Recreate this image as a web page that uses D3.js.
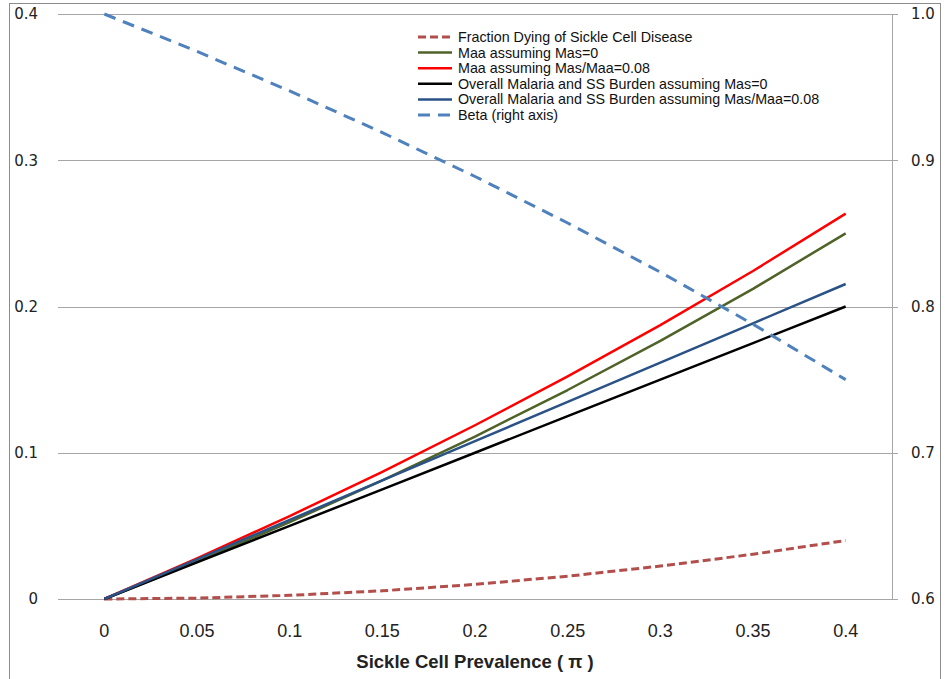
<!DOCTYPE html>
<html>
<head>
<meta charset="utf-8">
<script src="https://cdn.jsdelivr.net/npm/d3@7"></script>
<style>
  body { margin: 0; background: #fff; }
  svg { display: block; }
</style>
</head>
<body>
<div id="chart"></div>
<script>
// Sickle cell prevalence (x categories)
const prevalence = [0, 0.05, 0.1, 0.15, 0.2, 0.25, 0.3, 0.35, 0.4];
const xTickLabels = ["0", "0.05", "0.1", "0.15", "0.2", "0.25", "0.3", "0.35", "0.4"];

// values
const fractionDyingSS = [0, 0.0006, 0.0025, 0.0056, 0.01, 0.0156, 0.0225, 0.0306, 0.04];
const maaMas0 = [0, 0.0256, 0.0526, 0.0811, 0.1111, 0.1429, 0.1765, 0.2121, 0.25];
const maaMas008 = [0, 0.0278, 0.0567, 0.087, 0.1188, 0.1522, 0.1873, 0.2243, 0.2635];
const burdenMas0 = [0, 0.025, 0.05, 0.075, 0.1, 0.125, 0.15, 0.175, 0.2];
const burdenMas008 = [0, 0.0271, 0.0541, 0.0811, 0.1079, 0.1348, 0.1616, 0.1885, 0.2154];
const beta = [1.0, 0.9744, 0.9474, 0.9189, 0.8889, 0.8571, 0.8235, 0.7879, 0.75];

const leftTicks = [0, 0.1, 0.2, 0.3, 0.4];
const leftTickLabels = ["0", "0.1", "0.2", "0.3", "0.4"];
const rightTicks = [0.6, 0.7, 0.8, 0.9, 1.0];
const rightTickLabels = ["0.6", "0.7", "0.8", "0.9", "1.0"];

const seriesNames = [
  "Fraction Dying of Sickle Cell Disease",
  "Maa assuming Mas=0",
  "Maa assuming Mas/Maa=0.08",
  "Overall Malaria and SS Burden assuming Mas=0",
  "Overall Malaria and SS Burden assuming Mas/Maa=0.08",
  "Beta (right axis)"
];

const series = [
  { name: seriesNames[0], values: fractionDyingSS, color: "#B24E4B", dash: "8,4", axis: "left" },
  { name: seriesNames[1], values: maaMas0, color: "#4F6228", dash: null, axis: "left" },
  { name: seriesNames[2], values: maaMas008, color: "#FF0000", dash: null, axis: "left" },
  { name: seriesNames[3], values: burdenMas0, color: "#000000", dash: null, axis: "left" },
  { name: seriesNames[4], values: burdenMas008, color: "#2A5286", dash: null, axis: "left" },
  { name: seriesNames[5], values: beta, color: "#4F81BD", dash: "12,8", axis: "right" }
];

const W = 945, H = 679;
const plot = { left: 58, right: 892, top: 14, bottom: 599 };

const svg = d3.select("#chart").append("svg")
  .attr("width", W)
  .attr("height", H);

// outer chart border
svg.append("rect")
  .attr("x", 9.5).attr("y", 3.5)
  .attr("width", 931).attr("height", 690)
  .attr("fill", "none")
  .attr("stroke", "#8c8c8c")
  .attr("stroke-width", 1);

// category axis: points centred in 9 bands
const x = d3.scalePoint()
  .domain(prevalence)
  .range([plot.left, plot.right])
  .padding(0.5);

const yL = d3.scaleLinear().domain([0, 0.4]).range([plot.bottom, plot.top]);
const yR = d3.scaleLinear().domain([0.6, 1.0]).range([plot.bottom, plot.top]);

// gridlines (left axis)
svg.append("g")
  .selectAll("line")
  .data(leftTicks)
  .join("line")
  .attr("x1", plot.left)
  .attr("x2", plot.right + 6)
  .attr("y1", d => Math.round(yL(d)) + 0.5)
  .attr("y2", d => Math.round(yL(d)) + 0.5)
  .attr("stroke", "#a6a6a6")
  .attr("stroke-width", 1);

// right axis line
svg.append("line")
  .attr("x1", plot.right + 0.5).attr("x2", plot.right + 0.5)
  .attr("y1", plot.top).attr("y2", plot.bottom)
  .attr("stroke", "#a6a6a6");

// left tick labels
svg.append("g")
  .selectAll("text")
  .data(leftTicks)
  .join("text")
  .attr("x", 38)
  .attr("y", d => yL(d))
  .attr("dy", "0.35em")
  .attr("text-anchor", "end")
  .style("font-family", "DejaVu Sans, Verdana, sans-serif")
  .style("font-size", "15px")
  .style("fill", "#222")
  .text((d, i) => leftTickLabels[i]);

// right tick labels
svg.append("g")
  .selectAll("text")
  .data(rightTicks)
  .join("text")
  .attr("x", 911)
  .attr("y", d => yR(d))
  .attr("dy", "0.35em")
  .attr("text-anchor", "start")
  .style("font-family", "DejaVu Sans, Verdana, sans-serif")
  .style("font-size", "15px")
  .style("fill", "#222")
  .text((d, i) => rightTickLabels[i]);

// x tick labels
svg.append("g")
  .selectAll("text")
  .data(prevalence)
  .join("text")
  .attr("x", d => x(d))
  .attr("y", 631)
  .attr("dy", "0.35em")
  .attr("text-anchor", "middle")
  .style("font-family", "Liberation Sans, Arial, sans-serif")
  .style("font-size", "18px")
  .style("fill", "#222")
  .text((d, i) => xTickLabels[i]);

// x axis title
svg.append("text")
  .attr("x", x(0.2))
  .attr("y", 662)
  .attr("dy", "0.35em")
  .attr("text-anchor", "middle")
  .style("font-family", "Liberation Sans, Arial, sans-serif")
  .style("font-size", "18.5px")
  .style("font-weight", "bold")
  .style("fill", "#222")
  .text("Sickle Cell Prevalence ( \u03c0 )");

// lines
series.forEach(s => {
  const yS = s.axis === "right" ? yR : yL;
  const line = d3.line()
    .x((d, i) => x(prevalence[i]))
    .y(d => yS(d));
  svg.append("path")
    .datum(s.values)
    .attr("d", line)
    .attr("fill", "none")
    .attr("stroke", s.color)
    .attr("stroke-width", s.dash ? 3 : 2.5)
    .attr("stroke-dasharray", s.dash)
    .attr("stroke-linejoin", "round");
});

// legend
const legend = svg.append("g").attr("transform", "translate(418,37)");
series.forEach((s, i) => {
  const g = legend.append("g").attr("transform", `translate(0,${i * 15.6})`);
  g.append("line")
    .attr("x1", 0).attr("x2", 34)
    .attr("y1", 0).attr("y2", 0)
    .attr("stroke", s.color)
    .attr("stroke-width", s.dash ? 3 : 2.5)
    .attr("stroke-dasharray", s.dash);
  g.append("text")
    .attr("x", 40)
    .attr("y", 0)
    .attr("dy", "0.35em")
    .style("font-family", "Liberation Sans, Arial, sans-serif")
    .style("font-size", "14.3px")
    .style("fill", "#111")
    .text(s.name);
});
</script>
</body>
</html>
